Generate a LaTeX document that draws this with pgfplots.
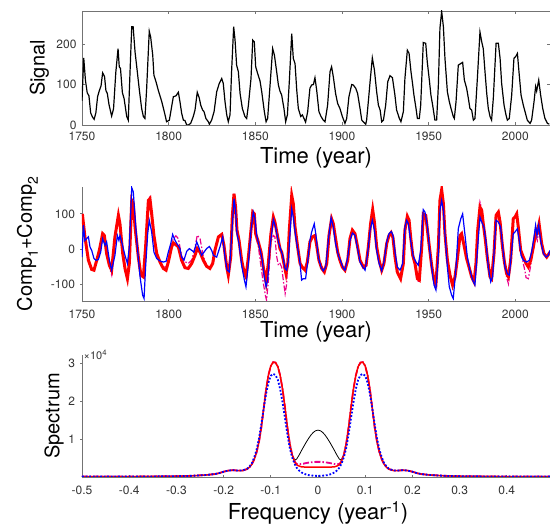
\documentclass[border=0pt]{standalone}
\usepackage{fontspec}
\setmainfont{TeX Gyre Heros}
\usepackage{pgfplots}
\pgfplotsset{compat=1.18}
\usepackage{pgfplotstable}

\definecolor{axgray}{gray}{0.45}
\definecolor{txtgray}{gray}{0.2}

\pgfplotsset{
  panel/.style={
    scale only axis, anchor=south west, enlargelimits=false,
    tick align=inside, major tick length=3pt,
    axis line style={draw=axgray, line width=0.9pt},
    every tick/.append style={draw=axgray, line width=0.9pt},
    tick label style={font=\fontsize{12}{14}\selectfont, text=txtgray},
    xticklabel style={yshift=-3.5pt},
    yticklabel style={xshift=-2pt},
    ylabel style={font=\fontsize{20}{24}\selectfont, anchor=base, inner sep=0pt},
    xlabel style={font=\fontsize{22}{26}\selectfont, anchor=base, inner sep=0pt},
    /pgf/number format/assume math mode=true,
    /pgf/number format/1000 sep={},
  },
  openpanel/.style={panel, axis x line=bottom, axis y line=left,
    axis line style={-}, x axis line style={-}, y axis line style={-}},
}

% spectrum, values in units of 10^4
\pgfplotstableread{
f blk red mag blu
-0.5 0.01 0.01 0.01 0.01
-0.45 0.01 0.01 0.01 0.01
-0.4 0.012 0.012 0.012 0.012
-0.35 0.015 0.015 0.015 0.015
-0.3 0.02 0.02 0.02 0.02
-0.27 0.03 0.03 0.03 0.03
-0.24 0.05 0.05 0.05 0.05
-0.22 0.075 0.075 0.075 0.075
-0.21 0.10 0.10 0.10 0.10
-0.2 0.14 0.14 0.14 0.14
-0.19 0.17 0.17 0.17 0.17
-0.18 0.18 0.18 0.18 0.18
-0.17 0.17 0.17 0.17 0.17
-0.16 0.17 0.17 0.17 0.17
-0.15 0.21 0.21 0.21 0.22
-0.145 0.26 0.26 0.26 0.28
-0.14 0.34 0.34 0.34 0.37
-0.135 0.47 0.47 0.47 0.52
-0.13 0.66 0.66 0.66 0.73
-0.125 0.93 0.93 0.93 1.02
-0.12 1.32 1.32 1.32 1.40
-0.115 1.82 1.82 1.82 1.82
-0.11 2.32 2.32 2.32 2.20
-0.105 2.70 2.70 2.70 2.50
-0.1 2.94 2.94 2.94 2.68
-0.095 3.04 3.04 3.04 2.73
-0.09 3.03 3.03 3.03 2.70
-0.085 2.92 2.92 2.92 2.57
-0.08 2.68 2.68 2.68 2.32
-0.075 2.32 2.32 2.32 1.97
-0.07 1.85 1.85 1.85 1.56
-0.065 1.33 1.33 1.33 1.14
-0.06 0.90 0.90 0.90 0.78
-0.055 0.60 0.60 0.60 0.53
-0.05 0.47 0.42 0.43 0.36
-0.048 0.45 0.37 0.38 0.31
-0.045 0.48 0.32 0.345 0.24
-0.04 0.58 0.29 0.335 0.17
-0.035 0.70 0.27 0.345 0.12
-0.03 0.81 0.265 0.355 0.09
-0.025 0.92 0.26 0.37 0.065
-0.02 1.02 0.26 0.38 0.05
-0.015 1.11 0.26 0.39 0.04
-0.01 1.18 0.26 0.395 0.035
-0.005 1.225 0.26 0.40 0.03
0 1.24 0.26 0.40 0.03
0.005 1.225 0.26 0.40 0.03
0.01 1.18 0.26 0.395 0.035
0.015 1.11 0.26 0.39 0.04
0.02 1.02 0.26 0.38 0.05
0.025 0.92 0.26 0.37 0.065
0.03 0.81 0.265 0.355 0.09
0.035 0.70 0.27 0.345 0.12
0.04 0.58 0.29 0.335 0.17
0.045 0.48 0.32 0.345 0.24
0.048 0.45 0.37 0.38 0.31
0.05 0.47 0.42 0.43 0.36
0.055 0.60 0.60 0.60 0.53
0.06 0.90 0.90 0.90 0.78
0.065 1.33 1.33 1.33 1.14
0.07 1.85 1.85 1.85 1.56
0.075 2.32 2.32 2.32 1.97
0.08 2.68 2.68 2.68 2.32
0.085 2.92 2.92 2.92 2.57
0.09 3.03 3.03 3.03 2.70
0.095 3.04 3.04 3.04 2.73
0.1 2.94 2.94 2.94 2.68
0.105 2.70 2.70 2.70 2.50
0.11 2.32 2.32 2.32 2.20
0.115 1.82 1.82 1.82 1.82
0.12 1.32 1.32 1.32 1.40
0.125 0.93 0.93 0.93 1.02
0.13 0.66 0.66 0.66 0.73
0.135 0.47 0.47 0.47 0.52
0.14 0.34 0.34 0.34 0.37
0.145 0.26 0.26 0.26 0.28
0.15 0.21 0.21 0.21 0.22
0.16 0.17 0.17 0.17 0.17
0.17 0.17 0.17 0.17 0.17
0.18 0.18 0.18 0.18 0.18
0.19 0.17 0.17 0.17 0.17
0.2 0.14 0.14 0.14 0.14
0.21 0.10 0.10 0.10 0.10
0.22 0.075 0.075 0.075 0.075
0.24 0.05 0.05 0.05 0.05
0.27 0.03 0.03 0.03 0.03
0.3 0.02 0.02 0.02 0.02
0.35 0.015 0.015 0.015 0.015
0.4 0.012 0.012 0.012 0.012
0.45 0.01 0.01 0.01 0.01
0.5 0.01 0.01 0.01 0.01
}\spectab

\begin{document}
\begin{tikzpicture}

% ---------- top: signal ----------
\begin{axis}[panel, at={(82pt,401pt)}, width=468pt, height=114pt,
  xmin=1750, xmax=2020, ymin=0, ymax=282,
  xtick={1750,1800,1850,1900,1950,2000}, ytick={0,100,200},
  xlabel={Time (year)}, ylabel={Signal},
  xlabel style={at={(rel axis cs:0.5,-0.342)}},
  ylabel style={at={(rel axis cs:-0.080,0.5)}}]
\addplot[black, line width=1.2pt] coordinates {
(1750.0,60) (1751.0,166) (1752.0,110) (1753.0,80) (1754.0,72) (1755.0,30)
(1756.0,20) (1757.0,14) (1758.0,30) (1759.0,70) (1760.0,85) (1761.0,97)
(1761.9,129) (1763.0,120) (1763.8,85) (1764.6,78) (1765.6,50) (1767.1,22)
(1768.2,40) (1769.5,130) (1770.8,189) (1771.5,144) (1772.2,140) (1773.3,80)
(1774.3,65) (1775.8,21) (1776.7,12) (1777.7,130) (1778.7,243) (1779.5,243)
(1780.6,181) (1781.9,132) (1783.1,86) (1784.4,41) (1785.4,21) (1786.3,16)
(1787.3,90) (1788.8,232) (1789.6,218) (1790.8,173) (1791.5,123) (1792.7,107)
(1794.0,86) (1796.0,58) (1797.9,25) (1798.8,8) (1799.6,10) (1800.4,12)
(1801.7,45) (1802.7,70) (1804.2,72) (1805.6,81) (1806.5,58) (1807.5,29)
(1808.5,12) (1809.4,11) (1810.4,0) (1811.3,0) (1812.7,4) (1814.2,21)
(1815.2,37) (1816.5,81) (1817.7,66) (1818.5,49) (1819.6,37) (1820.4,33)
(1821.5,16) (1822.9,8) (1823.5,2) (1824.8,12) (1826.2,33) (1827.7,82)
(1829.2,103) (1830.6,115) (1831.5,103) (1832.5,58) (1833.5,25) (1834.4,8)
(1835.4,25) (1836.3,132) (1837.5,243) (1838.3,210) (1839.2,148) (1840.2,132)
(1841.2,78) (1842.5,41) (1844.0,21) (1845.0,16) (1846.0,49) (1847.5,115)
(1848.5,210) (1849.4,206) (1850.2,144) (1851.3,128) (1852.7,109) (1853.7,82)
(1855.2,33) (1856.2,8) (1857.1,16) (1858.5,99) (1860.0,189) (1861.0,173)
(1862.3,132) (1863.3,99) (1864.2,84) (1865.2,74) (1866.5,41) (1867.5,8)
(1868.5,25) (1869.6,107) (1871.0,226) (1871.9,165) (1872.9,152) (1873.9,86)
(1874.8,41) (1876.2,21) (1877.1,25) (1878.1,16) (1879.0,7) (1880.2,33)
(1881.5,91) (1882.5,99) (1883.5,100) (1884.4,117) (1885.4,86) (1886.7,33)
(1887.9,21) (1889.2,12) (1890.2,8) (1891.7,49) (1893.1,132) (1894.0,144)
(1895.0,119) (1896.3,78) (1897.5,53) (1898.8,41) (1900.2,21) (1901.7,4)
(1902.7,16) (1904.0,70) (1905.6,100) (1906.5,99) (1907.9,91) (1909.0,78)
(1910.4,41) (1911.4,12) (1912.3,8) (1913.7,2) (1914.2,12) (1915.2,58)
(1916.2,107) (1917.5,166) (1918.7,136) (1920.0,82) (1921.0,49) (1922.0,37)
(1922.9,8) (1923.9,12) (1925.2,49) (1926.4,107) (1927.7,122) (1929.1,117)
(1930.5,75) (1931.5,37) (1933.1,16) (1934.0,8) (1935.4,33) (1936.3,115)
(1937.7,185) (1938.7,177) (1939.8,132) (1940.8,99) (1941.5,74) (1942.7,41)
(1943.5,16) (1944.6,16) (1945.4,49) (1946.9,204) (1948.3,202) (1949.2,156)
(1950.4,111) (1951.3,74) (1952.3,49) (1953.6,12) (1954.6,12) (1955.6,99)
(1956.5,239) (1957.5,281) (1958.5,243) (1959.4,165) (1960.8,82) (1961.9,58)
(1962.9,41) (1964.2,21) (1964.8,16) (1965.8,58) (1967.1,148) (1968.5,152)
(1969.6,155) (1970.6,111) (1971.9,91) (1972.9,66) (1973.8,41) (1974.8,37)
(1975.8,12) (1976.7,16) (1978.1,115) (1979.6,230) (1980.6,206) (1981.5,189)
(1982.5,132) (1983.5,78) (1984.4,41) (1985.4,21) (1986.3,12) (1987.3,66)
(1988.9,202) (1990.2,202) (1991.2,165) (1992.1,103) (1993.5,49) (1994.6,25)
(1995.4,12) (1996.5,16) (1997.9,74) (1999.2,165) (2000.2,169) (2001.2,177)
(2002.1,132) (2003.3,74) (2004.6,49) (2005.6,33) (2006.9,12) (2008.5,4)
(2009.4,12) (2010.8,58) (2011.7,95) (2012.3,84) (2013.5,111) (2014.6,74)
(2015.8,41) (2017.1,16) (2018.5,4) (2019.6,2)
};
\end{axis}

% ---------- middle: Comp1+Comp2 ----------
\begin{axis}[openpanel, at={(82pt,225pt)}, width=468pt, height=114pt,
  xmin=1750, xmax=2020, ymin=-146, ymax=176,
  xtick={1750,1800,1850,1900,1950,2000}, ytick={-100,0,100},
  xlabel={Time (year)},
  ylabel={Comp\raisebox{-6pt}{\fontsize{14}{14}\selectfont 1}+Comp\raisebox{-6pt}{\fontsize{14}{14}\selectfont 2}},
  xlabel style={at={(rel axis cs:0.5,-0.322)}},
  ylabel style={at={(rel axis cs:-0.107,0.5)}}]
% magenta dash-dot
\addplot[magenta, line width=1.2pt, dash pattern=on 6pt off 2pt on 1.5pt off 2pt] coordinates {
(1750.2,100) (1751.7,35) (1753.7,-31) (1755.6,-57) (1756.9,-59) (1758.5,-31)
(1760.0,-3) (1761.9,44) (1762.9,39) (1764.2,-12) (1765.8,-50) (1767.1,-72)
(1769.0,35) (1771.0,96) (1771.9,72) (1773.5,-12) (1774.8,-58) (1776.2,-88)
(1777.3,-40) (1778.7,138) (1779.6,129) (1780.6,63) (1782.5,-22) (1784.0,-73)
(1785.4,-78) (1786.7,7) (1788.3,140) (1789.2,148) (1790.2,100) (1791.5,35)
(1793.1,-12) (1795.0,-36) (1796.9,-50) (1798.5,-50) (1799.8,-30) (1801.7,15)
(1802.7,30) (1804.2,38) (1805.6,30) (1807.5,-20) (1809.4,-35) (1811.3,-40)
(1813.3,-30) (1815.2,5) (1816.5,40) (1818.1,30) (1820.0,-20) (1821.9,-45)
(1823.8,-54) (1825.4,-40) (1826.7,-3) (1828.7,35) (1830.6,42) (1831.9,11)
(1833.5,-50) (1834.4,-73) (1835.8,-22) (1836.7,91) (1837.7,157) (1838.6,120)
(1839.4,54) (1840.6,25) (1842.1,-31) (1843.7,-69) (1844.6,-78) (1846.0,-22)
(1847.5,54) (1848.5,105) (1849.4,90) (1850.2,35) (1851.7,10) (1853.3,-50)
(1854.6,-95) (1855.8,-130) (1856.5,-144) (1857.5,-90) (1859.0,20) (1860.4,39)
(1861.3,35) (1862.3,-20) (1863.3,-45) (1864.2,-40) (1865.2,-50) (1866.2,-90)
(1867.2,-125) (1868.0,-100) (1868.7,-40) (1869.6,54) (1871.0,152) (1871.9,129)
(1872.9,63) (1874.4,7) (1875.8,-40) (1877.3,-55) (1878.7,-59) (1880.0,-36)
(1881.5,21) (1882.9,35) (1884.4,39) (1885.4,11) (1886.7,-31) (1888.3,-45)
(1889.8,-64) (1891.2,-40) (1892.5,39) (1894.0,86) (1895.0,72) (1896.3,30)
(1897.5,-8) (1898.8,-31) (1900.2,-50) (1901.7,-59) (1903.3,-31) (1904.6,30)
(1906.0,54) (1907.5,44) (1909.0,7) (1910.4,-31) (1912.3,-50) (1913.9,-45)
(1915.2,7) (1916.5,72) (1917.7,112) (1918.7,77) (1920.0,7) (1921.4,-31)
(1922.9,-59) (1924.2,-40) (1925.8,16) (1927.1,39) (1928.3,47) (1929.4,33)
(1930.6,-22) (1931.9,-64) (1933.8,-83) (1935.4,-40) (1936.3,54) (1937.7,93)
(1938.7,82) (1939.6,35) (1940.8,-17) (1942.1,-45) (1943.5,-90) (1944.6,-90)
(1946.0,7) (1946.9,100) (1948.3,96) (1949.2,58) (1950.4,7) (1951.7,-45)
(1953.1,-95) (1953.8,-111) (1954.4,-100) (1955.6,7) (1956.5,138) (1957.5,168)
(1958.5,129) (1959.4,44) (1960.8,-31) (1962.3,-73) (1963.8,-101) (1965.2,-78)
(1966.7,-22) (1968.1,39) (1969.0,44) (1970.4,11) (1971.9,-26) (1973.5,-54)
(1974.8,-78) (1976.2,-92) (1977.3,-40) (1978.3,54) (1979.6,133) (1980.6,115)
(1981.5,72) (1982.5,35) (1983.8,-22) (1985.4,-78) (1986.3,-83) (1987.7,-12)
(1988.9,96) (1990.2,105) (1991.2,77) (1992.5,11) (1993.7,-36) (1995.0,-80)
(1996.0,-97) (1997.3,-31) (1998.8,86) (1999.8,91) (2000.8,100) (2001.7,63)
(2003.1,-3) (2004.6,-40) (2005.5,-60) (2006.2,-80) (2007.5,-83) (2008.9,-45)
(2010.4,7) (2012.0,35) (2012.7,25) (2013.7,60) (2015.2,16) (2016.5,-12)
(2018.1,-22) (2020.0,-8)
};
% red thick
\addplot[red, line width=3pt] coordinates {
(1750.2,100) (1751.7,35) (1753.7,-31) (1755.6,-57) (1756.9,-59) (1758.5,-31)
(1760.0,-3) (1761.9,44) (1762.9,39) (1764.2,-12) (1765.8,-45) (1767.1,-59)
(1769.0,35) (1771.0,96) (1771.9,72) (1773.5,-12) (1774.8,-54) (1776.2,-83)
(1777.3,-40) (1778.7,138) (1779.6,129) (1780.6,63) (1782.5,-22) (1784.0,-73)
(1785.4,-78) (1786.7,7) (1788.3,138) (1789.2,143) (1790.2,100) (1791.5,39)
(1793.1,-12) (1795.0,-36) (1796.9,-54) (1798.5,-59) (1799.8,-36) (1801.7,7)
(1802.7,18) (1804.6,11) (1805.6,7) (1807.5,-31) (1809.4,-52) (1811.3,-54)
(1813.3,-40) (1815.2,-17) (1816.5,2) (1818.1,-8) (1820.0,-31) (1821.9,-48)
(1823.8,-54) (1825.4,-40) (1826.7,-3) (1828.7,35) (1830.6,42) (1831.9,11)
(1833.5,-50) (1834.4,-73) (1835.8,-22) (1836.7,91) (1837.7,157) (1838.6,120)
(1839.4,54) (1840.6,25) (1842.1,-31) (1843.7,-69) (1844.6,-78) (1846.0,-22)
(1847.5,54) (1848.5,105) (1849.4,100) (1850.2,44) (1851.7,21) (1853.3,-8)
(1854.6,-50) (1856.2,-92) (1857.5,-40) (1859.0,44) (1860.4,91) (1861.3,77)
(1862.9,35) (1864.2,2) (1865.2,-8) (1866.7,-45) (1867.7,-69) (1868.7,-40)
(1869.6,54) (1871.0,152) (1871.9,129) (1872.9,63) (1874.4,7) (1875.8,-40)
(1877.3,-52) (1878.7,-59) (1880.0,-36) (1881.5,21) (1882.9,35) (1884.4,39)
(1885.4,11) (1886.7,-31) (1888.3,-54) (1889.8,-64) (1891.2,-40) (1892.5,39)
(1894.0,86) (1895.0,72) (1896.3,30) (1897.5,-8) (1898.8,-31) (1900.2,-50)
(1901.7,-59) (1903.3,-31) (1904.6,30) (1906.0,54) (1907.5,44) (1909.0,7)
(1910.4,-31) (1912.3,-50) (1913.9,-45) (1915.2,7) (1916.5,72) (1917.7,112)
(1918.7,77) (1920.0,7) (1921.4,-31) (1922.9,-59) (1924.2,-40) (1925.8,16)
(1927.1,39) (1928.3,47) (1929.4,33) (1930.6,-22) (1931.9,-64) (1933.8,-83)
(1935.4,-40) (1936.3,54) (1937.7,93) (1938.7,82) (1939.6,35) (1940.8,-17)
(1942.1,-40) (1943.5,-83) (1944.6,-87) (1946.0,7) (1946.9,100) (1948.3,96)
(1949.2,58) (1950.4,7) (1951.7,-45) (1953.1,-87) (1954.2,-97) (1955.6,7)
(1956.5,138) (1957.5,168) (1958.5,129) (1959.4,44) (1960.8,-31) (1962.3,-73)
(1963.8,-101) (1965.2,-78) (1966.7,-22) (1968.1,39) (1969.0,44) (1970.4,11)
(1971.9,-26) (1973.5,-54) (1974.8,-78) (1976.2,-92) (1977.3,-40) (1978.3,54)
(1979.6,119) (1980.6,110) (1981.5,72) (1982.5,35) (1983.8,-22) (1985.4,-78)
(1986.3,-83) (1987.7,-12) (1988.9,96) (1990.2,105) (1991.2,77) (1992.5,11)
(1993.7,-36) (1995.0,-69) (1996.0,-78) (1997.3,-31) (1998.8,86) (1999.8,91)
(2000.8,100) (2001.7,63) (2003.1,-3) (2004.6,-22) (2006.2,-40) (2007.5,-50)
(2008.9,-31) (2010.4,7) (2012.0,54) (2012.7,49) (2013.7,72) (2015.2,16)
(2016.5,-12) (2018.1,-22) (2020.0,-8)
};
% blue
\addplot[blue, line width=1.2pt] coordinates {
(1750.0,-22) (1750.8,68) (1751.7,25) (1752.7,30) (1753.7,35) (1754.6,7)
(1755.6,-3) (1756.9,-26) (1758.1,-31) (1759.4,-29) (1760.8,-8) (1761.9,30)
(1763.3,11) (1764.2,21) (1765.8,-31) (1767.1,-59) (1769.0,-17) (1770.4,39)
(1771.3,25) (1771.9,39) (1772.9,21) (1774.8,-17) (1776.2,-40) (1777.3,7)
(1778.7,174) (1779.6,162) (1780.6,91) (1781.9,7) (1783.5,-78) (1785.0,-130)
(1785.8,-139) (1786.7,-50) (1787.9,44) (1788.8,82) (1790.2,49) (1791.5,-8)
(1793.1,-26) (1795.0,-33) (1796.9,-36) (1798.5,-34) (1799.8,-8) (1801.2,16)
(1802.3,42) (1803.7,25) (1805.0,14) (1806.5,2) (1807.5,-22) (1808.8,-31)
(1810.4,-6) (1811.9,2) (1813.3,-3) (1814.6,-8) (1816.2,21) (1817.7,2)
(1819.0,-17) (1820.4,-8) (1821.9,2) (1823.5,8) (1824.8,-3) (1825.8,-17)
(1827.7,-22) (1829.6,7) (1831.2,35) (1832.5,-22) (1833.8,-59) (1835.0,-64)
(1836.3,35) (1837.7,143) (1838.6,110) (1839.4,44) (1840.6,16) (1842.1,-45)
(1843.7,-87) (1844.6,-106) (1846.0,-40) (1847.5,54) (1848.8,105) (1849.8,86)
(1850.8,39) (1852.1,11) (1853.7,-22) (1855.2,-78) (1856.2,-106) (1857.1,-87)
(1858.5,7) (1860.4,84) (1861.7,63) (1863.3,21) (1864.8,-3) (1865.8,-17)
(1867.1,-54) (1868.1,-59) (1869.0,-31) (1870.0,44) (1871.0,115) (1871.9,91)
(1873.3,35) (1874.8,-8) (1875.8,-40) (1876.7,-87) (1877.7,-83) (1879.0,-83)
(1880.2,-36) (1881.5,25) (1882.5,49) (1884.0,72) (1885.0,39) (1886.3,-22)
(1887.9,-50) (1889.2,-61) (1890.6,-50) (1892.1,25) (1893.7,89) (1895.0,63)
(1896.3,16) (1897.9,-17) (1899.4,-36) (1900.8,-54) (1901.7,-59) (1903.3,-22)
(1904.6,25) (1906.0,46) (1907.5,39) (1909.0,2) (1910.4,-36) (1912.0,-50)
(1913.3,-59) (1914.8,-12) (1916.2,54) (1917.5,82) (1918.7,54) (1920.0,-3)
(1921.4,-40) (1922.9,-61) (1924.2,-36) (1925.8,21) (1927.1,44) (1928.5,50)
(1929.4,40) (1930.6,-8) (1931.9,-50) (1933.5,-59) (1935.0,-40) (1936.3,63)
(1937.3,82) (1938.3,72) (1939.6,25) (1941.2,-22) (1942.7,-36) (1944.0,-45)
(1945.4,-3) (1946.9,112) (1947.9,105) (1949.2,68) (1950.4,7) (1951.7,-50)
(1953.1,-101) (1954.2,-115) (1955.6,-12) (1956.5,110) (1957.5,138) (1958.5,110)
(1959.4,44) (1960.8,-50) (1961.9,-106) (1963.3,-130) (1964.2,-139) (1965.8,-50)
(1967.1,58) (1968.5,86) (1969.6,100) (1971.0,39) (1972.3,-22) (1973.8,-59)
(1975.4,-87) (1976.7,-101) (1977.7,-31) (1978.7,35) (1979.6,91) (1980.6,77)
(1981.9,63) (1983.1,21) (1984.4,-50) (1985.8,-92) (1986.9,-78) (1987.9,7)
(1988.9,82) (1990.2,77) (1991.5,63) (1992.7,7) (1994.0,-50) (1995.4,-69)
(1996.5,-73) (1997.9,-3) (1998.8,44) (1999.8,49) (2001.2,58) (2002.1,30)
(2003.3,-17) (2004.6,-31) (2006.5,-36) (2008.1,-31) (2009.4,-8) (2010.8,35)
(2011.7,68) (2012.5,39) (2013.5,68) (2014.6,25) (2016.2,-12) (2017.7,-22)
(2019.0,-17) (2020.0,-3)
};
\end{axis}

% ---------- bottom: spectrum ----------
\begin{axis}[openpanel, at={(82pt,49pt)}, width=472pt, height=122pt,
  clip mode=individual,
  xmin=-0.5, xmax=0.5, ymin=0, ymax=3.23,
  xtick={-0.5,-0.4,-0.3,-0.2,-0.1,0,0.1,0.2,0.3,0.4}, ytick={1,2,3},
  xlabel={Frequency (year\textsuperscript{-1})}, ylabel={Spectrum},
  xlabel style={at={(rel axis cs:0.5,-0.352)}},
  ylabel style={at={(rel axis cs:-0.048,0.5)}}]
\addplot[black, line width=0.8pt] table[x=f, y=blk] {\spectab};
\addplot[magenta, line width=1.8pt, dash pattern=on 6pt off 2pt on 1.5pt off 2pt] table[x=f, y=mag] {\spectab};
\addplot[red, line width=1.5pt] table[x=f, y=red] {\spectab};
\addplot[blue, line width=1.8pt, dash pattern=on 1.8pt off 1.8pt] table[x=f, y=blu] {\spectab};
\node[anchor=base west, inner sep=0pt, text=txtgray, font=\fontsize{11}{12}\selectfont]
  at (rel axis cs:0.003,0.967) {×10\textsuperscript{4}};
\end{axis}

\pgfresetboundingbox
\path[use as bounding box] (0,0) rectangle (550pt,526pt);
\end{tikzpicture}
\end{document}
